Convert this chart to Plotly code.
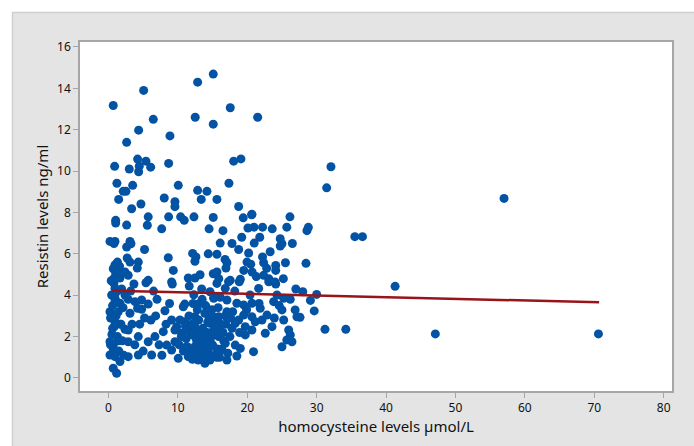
import plotly.graph_objects as go

# Homocysteine (µmol/L) and resistin (ng/ml) values
homocysteine = [
    5.07, 0.69, 12.85, 15.1, 17.55, 12.5, 15.1, 21.5, 6.46, 4.35, 8.86, 2.62, 4.2, 5.4, 4.44, 6.08, 4.35,
    0.89, 3.0, 8.67, 18.04, 19.09, 1.22, 3.49, 2.13, 2.52, 10.06, 17.36, 12.85, 14.19, 1.47, 8.04, 9.58,
    9.58, 13.37, 15.63, 4.68, 3.34, 18.76, 20.68, 26.15, 31.44, 32.06, 1.04, 1.04, 5.73, 8.67, 10.4, 10.92,
    12.32, 15.1, 19.42, 28.8, 28.6, 35.5, 36.6, 57.0, 28.46, 28.0, 30.0, 29.1, 29.65, 27.6, 31.2, 34.2,
    41.3, 47.1, 70.6, 2.62, 5.6, 7.67, 14.5, 0.22, 0.94, 3.1, 3.24, 2.62, 5.2, 8.62, 12.13, 12.46, 12.6,
    14.38, 9.34, 0.94, 0.69, 1.04, 1.66, 0.84, 1.66, 2.38, 2.85, 3.1, 4.3, 4.15, 5.73, 9.1, 11.5, 12.46,
    13.2, 15.1, 20.63, 16.5, 20.1, 20.97, 22.2, 23.6, 25.7, 16.1, 21.0, 24.75, 25.0, 24.75, 18.76, 20.2,
    15.63, 16.8, 17.07, 16.93, 19.96, 22.2, 22.36, 24.1, 24.1, 25.5, 15.63, 20.7, 22.36, 23.1, 15.9, 17.55,
    19.0, 24.0,
    0.79, 0.94, 1.41, 3.67, 5.4, 9.2, 11.64, 13.43, 14.63, 0.46, 12.3, 0.94, 1.66, 2.85, 3.82, 4.78, 5.73,
    0.22, 1.41, 3.1, 4.78, 4.2, 8.14, 11.0, 10.78, 6.12, 0.94, 0.84, 2.38, 2.85, 0.22, 0.69, 2.85, 4.3,
    5.73, 6.7, 7.9, 9.58, 11.0, 12.46, 13.9, 0.22, 0.94, 1.66, 2.85, 4.3, 6.22, 0.69, 1.18, 8.39, 9.1,
    10.06, 9.58, 10.55, 11.5, 12.46, 12.46, 12.46, 13.43, 13.43, 13.9, 14.63, 14.63, 14.63, 15.1, 12.94,
    13.9, 9.1, 10.3, 9.83, 11.27, 11.5,
    15.63, 17.3, 18.85, 21.64, 23.1, 24.1, 16.83, 15.16, 17.07, 18.5, 19.48, 20.4, 20.67, 23.8, 24.28,
    25.25, 21.87, 25.0, 26.9, 27.16, 15.88, 17.07, 19.48, 20.67, 22.12, 22.84, 18.27, 19.71, 25.25, 23.56,
    25.97, 26.2, 25.7, 22.6, 20.67, 19.71, 15.16, 15.88, 16.83, 16.35, 18.27, 19.0, 26.44, 25.0, 20.9,
    18.5, 17.07, 17.8, 18.76, 21.15,
    11.2, 11.8, 12.0, 12.8, 13.0, 13.2, 13.6, 13.8, 14.0, 14.2, 14.4, 14.8, 15.0, 15.3, 15.5, 15.8, 16.0,
    16.2, 16.5, 16.8, 17.2, 17.5, 10.8, 10.2, 11.6, 12.2, 13.5, 14.9, 16.1, 17.9, 12.7, 14.1, 13.1, 15.7,
    11.9, 16.6, 14.5, 13.7, 12.3, 15.2,
    0.5, 0.3, 0.6, 0.9, 1.2, 1.3, 0.4, 1.8, 2.1, 1.5, 2.2, 1.9, 0.7, 1.1, 2.4, 1.6, 0.8, 1.3, 2.0, 3.4,
    3.8, 4.5, 5.2, 5.0, 6.8, 7.3, 7.0, 8.3, 8.8, 6.5, 7.7, 3.2, 2.7,
    18.2, 19.5, 21.3, 22.8, 23.3, 21.8, 19.2, 17.8, 20.5, 25.2, 26.5, 26.2, 27.0,
    11.4, 12.6, 13.3, 14.7, 15.4, 16.3, 13.0, 14.3, 12.1, 15.9, 11.1, 16.9, 14.0, 12.9, 15.6, 13.8,
    10.5, 17.6, 18.9, 19.9, 21.7, 23.9, 24.6, 0.3, 0.6, 1.0, 1.4, 0.5, 1.7,
]
resistin = [
    13.9, 13.17, 14.3, 14.69, 13.06, 12.6, 12.27, 12.6, 12.5, 11.98, 11.7, 11.39, 10.58, 10.48, 10.24, 10.19, 9.97,
    10.23, 10.1, 10.37, 10.48, 10.59, 9.41, 9.31, 9.02, 9.02, 9.31, 9.41, 9.07, 9.02, 8.63, 8.7, 8.52,
    8.28, 8.63, 8.63, 8.41, 8.18, 8.29, 7.91, 7.79, 9.19, 10.21, 7.62, 7.49, 7.79, 7.79, 7.79, 7.62,
    7.79, 7.76, 7.74, 7.28, 7.12, 6.83, 6.83, 8.68, 5.54, 4.17, 4.04, 3.75, 3.24, 2.93, 2.35, 2.35,
    4.43, 2.13, 2.13, 7.39, 7.38, 7.21, 7.21, 6.6, 6.6, 6.6, 6.49, 6.33, 6.21, 5.81, 6.02, 5.64, 5.85,
    6.0, 5.2, 5.47, 5.28, 5.09, 5.12, 4.83, 4.83, 5.12, 4.96, 5.6, 5.6, 5.31, 4.72, 4.64, 4.83, 4.83,
    4.99, 5.04, 7.89, 7.12, 7.25, 7.29, 7.29, 7.21, 7.29, 6.52, 6.52, 6.73, 6.49, 6.38, 6.21, 6.04,
    5.98, 5.73, 5.57, 5.31, 5.6, 5.85, 5.57, 5.44, 5.2, 5.57, 5.12, 5.12, 4.96, 4.8, 4.8, 4.72,
    4.77, 4.64,
    4.57, 4.33, 4.22, 4.54, 4.6, 4.54, 4.44, 4.3, 4.17, 4.01, 4.02, 3.77, 3.61, 3.8, 3.69, 3.77, 3.57,
    3.2, 3.2, 3.13, 3.32, 3.37, 3.25, 3.57, 3.44, 2.8, 2.72, 2.48, 2.35, 2.32, 1.75, 1.59, 1.75, 2.0,
    1.75, 2.0, 2.24, 2.32, 2.72, 2.96, 3.13, 1.11, 1.03, 0.79, 1.03, 1.11, 1.11, 0.47, 0.23, 1.59, 1.35,
    0.95, 1.75, 2.16, 2.32, 2.48, 2.0, 1.51, 2.16, 1.68, 1.19, 2.64, 1.84, 0.87, 2.96, 0.87,
    0.71, 2.8, 2.8, 2.48, 1.51, 1.03,
    4.57, 4.65, 4.65, 4.33, 4.65, 4.54, 4.33, 3.85, 3.77, 3.61, 3.53, 4.01, 3.61, 3.69, 4.01,
    3.85, 3.37, 3.29, 3.29, 2.96, 2.96, 3.2, 3.04, 2.96, 2.8, 3.04, 2.64, 2.48, 2.8, 2.48,
    2.32, 2.08, 1.84, 2.16, 2.32, 2.08, 2.32, 2.0, 1.68, 1.35, 1.59, 1.43, 1.75, 1.51, 1.27,
    1.06, 0.87, 2.4, 2.8, 2.72,
    1.9, 1.2, 2.6, 3.3, 2.8, 1.0, 2.4, 1.4, 3.5, 2.2, 1.2, 2.0, 1.6, 1.1, 2.6, 3.4, 1.0,
    2.6, 2.2, 3.0, 1.2, 2.0, 1.3, 1.6, 3.0, 3.6, 3.8, 3.3, 3.9, 3.2, 1.8, 1.0, 3.6, 1.4,
    2.1, 1.8, 2.9, 0.9, 1.2, 3.9,
    2.1, 2.9, 3.5, 4.0, 4.9, 5.6, 4.7, 2.6, 3.4, 1.3, 1.1, 4.3, 1.4, 3.0, 4.0, 5.4, 6.5, 2.0, 1.8, 2.6,
    1.6, 2.6, 2.9, 1.3, 3.0, 1.6, 3.8, 2.6, 3.6, 4.2, 1.1, 4.2, 5.8,
    4.2, 5.2, 4.9, 5.3, 6.1, 6.8, 6.8, 6.5, 5.5, 4.8, 6.5, 3.8, 4.3,
    1.5, 2.3, 1.9, 1.5, 2.1, 1.4, 1.3, 2.7, 0.9, 2.4, 2.5, 2.6, 1.7, 2.1, 1.0, 2.0,
    2.0, 2.9, 2.2, 3.3, 3.6, 2.9, 3.5, 1.6, 2.4, 3.8, 1.8, 3.0, 2.6,
]

# Fitted regression line end points
fit_x = [0.5, 70.7]
fit_y = [4.22, 3.66]

x_ticks = [0, 10, 20, 30, 40, 50, 60, 70, 80]
y_ticks = [0, 2, 4, 6, 8, 10, 12, 14, 16]

FONT = "Noto Sans"
AXIS_COL = "#a6a6a6"

fig = go.Figure()
fig.add_trace(go.Scatter(
    x=homocysteine, y=resistin, mode="markers",
    marker=dict(size=9, color="#0353a4", line=dict(width=0)),
    showlegend=False, hoverinfo="skip",
))
fig.add_trace(go.Scatter(
    x=fit_x, y=fit_y, mode="lines",
    line=dict(color="#98141b", width=2.5),
    showlegend=False, hoverinfo="skip",
))

W, H = 694, 446
L, R, T, B = 80, 22, 42, 55
pw, ph = W - L - R, H - T - B

def px(xp):
    return (xp - L) / pw

def py(yp):
    return (H - B - yp) / ph

shapes = [
    dict(type="rect", xref="paper", yref="paper", x0=px(-20), x1=px(W + 20), y0=py(12), y1=py(-20),
         fillcolor="white", line=dict(width=0), layer="above"),
    dict(type="rect", xref="paper", yref="paper", x0=px(-20), x1=px(12), y0=py(H + 20), y1=py(-20),
         fillcolor="white", line=dict(width=0), layer="above"),
    dict(type="line", xref="paper", yref="paper", x0=px(12), x1=px(W + 20), y0=py(12.5), y1=py(12.5),
         line=dict(color="#cfcfcf", width=1.5), layer="above"),
    dict(type="line", xref="paper", yref="paper", x0=px(12.5), x1=px(12.5), y0=py(12), y1=py(H + 20),
         line=dict(color="#cfcfcf", width=1.5), layer="above"),
]

fig.update_layout(
    width=W, height=H,
    margin=dict(l=L, r=R, t=T, b=B, autoexpand=False),
    paper_bgcolor="#e4e4e4",
    plot_bgcolor="white",
    font=dict(family=FONT, color="#111111"),
    shapes=shapes,
    xaxis=dict(
        range=[-4.1, 81.2], tickvals=x_ticks, ticktext=[str(v) for v in x_ticks],
        showgrid=False, zeroline=False, showline=True, linecolor=AXIS_COL, linewidth=1.5, mirror=True,
        ticks="outside", ticklen=5, tickcolor=AXIS_COL, tickfont=dict(size=12, family=FONT),
        title=dict(text="homocysteine levels µmol/L", font=dict(size=15, family=FONT), standoff=5),
    ),
    yaxis=dict(
        range=[-0.63, 16.24], tickvals=y_ticks, ticktext=[str(v) for v in y_ticks],
        showgrid=False, zeroline=False, showline=True, linecolor=AXIS_COL, linewidth=1.5, mirror=True,
        ticks="outside", ticklen=5, tickcolor=AXIS_COL, tickfont=dict(size=12, family=FONT),
        title=dict(text="Resistin levels ng/ml", font=dict(size=15, family=FONT), standoff=5),
    ),
)

fig.write_html("out.html")
